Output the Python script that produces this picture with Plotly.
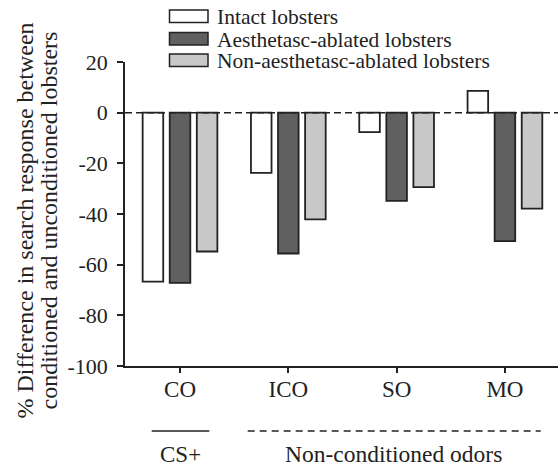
import plotly.graph_objects as go

# Odor categories and group-level labels
odors = ["CO", "ICO", "SO", "MO"]
series_names = ["Intact lobsters", "Aesthetasc-ablated lobsters", "Non-aesthetasc-ablated lobsters"]

# % difference in search response (conditioned vs unconditioned)
intact = [-66.7, -23.8, -7.7, 8.6]
aesthetasc_ablated = [-67.2, -55.6, -34.8, -50.7]
non_aesthetasc_ablated = [-54.8, -42.1, -29.4, -37.9]

y_ticks = [20, 0, -20, -40, -60, -80, -100]

FONT = "Liberation Serif"
INK = "#222222"
fills = ["#ffffff", "#606060", "#c8c8c8"]

W, H = 558, 469
L, R, T, B = 125, 0, 62, 103
PW, PH = W - L - R, H - T - B


def px(x):
    return (x - L) / PW


def py(y):
    return (H - B - y) / PH


xpos = list(range(len(odors)))
fig = go.Figure()
for name, vals, col in zip(series_names, [intact, aesthetasc_ablated, non_aesthetasc_ablated], fills):
    fig.add_trace(go.Bar(
        x=xpos, y=vals, name=name,
        marker=dict(color=col, line=dict(color=INK, width=1.8)),
        showlegend=False,
    ))

# zero reference line
fig.add_shape(type="line", xref="paper", yref="y", x0=0, x1=1, y0=0, y1=0,
              line=dict(color=INK, width=1.5, dash="7px,4px"), layer="above")

# legend drawn as swatches + labels
leg_rows = [16.3, 38.7, 60.3]
for name, col, yc in zip(series_names, fills, leg_rows):
    fig.add_shape(type="rect", xref="paper", yref="paper",
                  x0=px(169.5), x1=px(208), y0=py(yc - 6.3), y1=py(yc + 6.3),
                  fillcolor=col, line=dict(color=INK, width=1.5))
    fig.add_annotation(xref="paper", yref="paper", x=px(215), y=py(yc + 1),
                       text=name, showarrow=False, xanchor="left", yanchor="middle",
                       font=dict(family=FONT, size=21.5, color=INK))

# group brackets under the axis
fig.add_shape(type="line", xref="paper", yref="paper", x0=px(151.7), x1=px(209.3),
              y0=py(431), y1=py(431), line=dict(color=INK, width=1.5))
fig.add_shape(type="line", xref="paper", yref="paper", x0=px(247.7), x1=px(540.7),
              y0=py(431), y1=py(431), line=dict(color=INK, width=1.5, dash="7px,5px"))
fig.add_annotation(xref="paper", yref="paper", x=px(180.5), y=py(469), text="CS+",
                   showarrow=False, xanchor="center", yanchor="bottom",
                   font=dict(family=FONT, size=23, color=INK))
fig.add_annotation(xref="paper", yref="paper", x=px(393.3), y=py(469), text="Non-conditioned odors",
                   showarrow=False, xanchor="center", yanchor="bottom",
                   font=dict(family=FONT, size=23.5, color=INK))

# y-axis title, two lines
for txt, xc in [("% Difference in search response between", 25),
                ("conditioned and unconditioned lobsters", 49)]:
    fig.add_annotation(xref="paper", yref="paper", x=px(xc), y=py(220.5), text=txt,
                       textangle=-90, showarrow=False, xanchor="center", yanchor="middle",
                       font=dict(family=FONT, size=24, color=INK))

fig.update_layout(
    width=W, height=H,
    margin=dict(l=L, r=R, t=T, b=B, pad=0),
    paper_bgcolor="white", plot_bgcolor="white",
    barmode="group", bargap=0.25, bargroupgap=0.24,
    font=dict(family=FONT, size=22, color=INK),
    xaxis=dict(range=[-0.508, 3.49], tickvals=xpos, ticktext=odors,
               showgrid=False, zeroline=False, showline=True, linecolor=INK, linewidth=1.5,
               ticks="outside", ticklen=5, tickwidth=1.5, tickcolor=INK,
               ticklabelstandoff=-3,
               tickfont=dict(family=FONT, size=23, color=INK)),
    yaxis=dict(range=[-100, 20], tickvals=y_ticks, ticktext=[str(v) for v in y_ticks],
               showgrid=False, zeroline=False, showline=True, linecolor=INK, linewidth=1.5,
               ticks="outside", ticklen=6, tickwidth=1.5, tickcolor=INK,
               ticklabelstandoff=5,
               tickfont=dict(family=FONT, size=22, color=INK)),
)

fig.write_html("out.html")
